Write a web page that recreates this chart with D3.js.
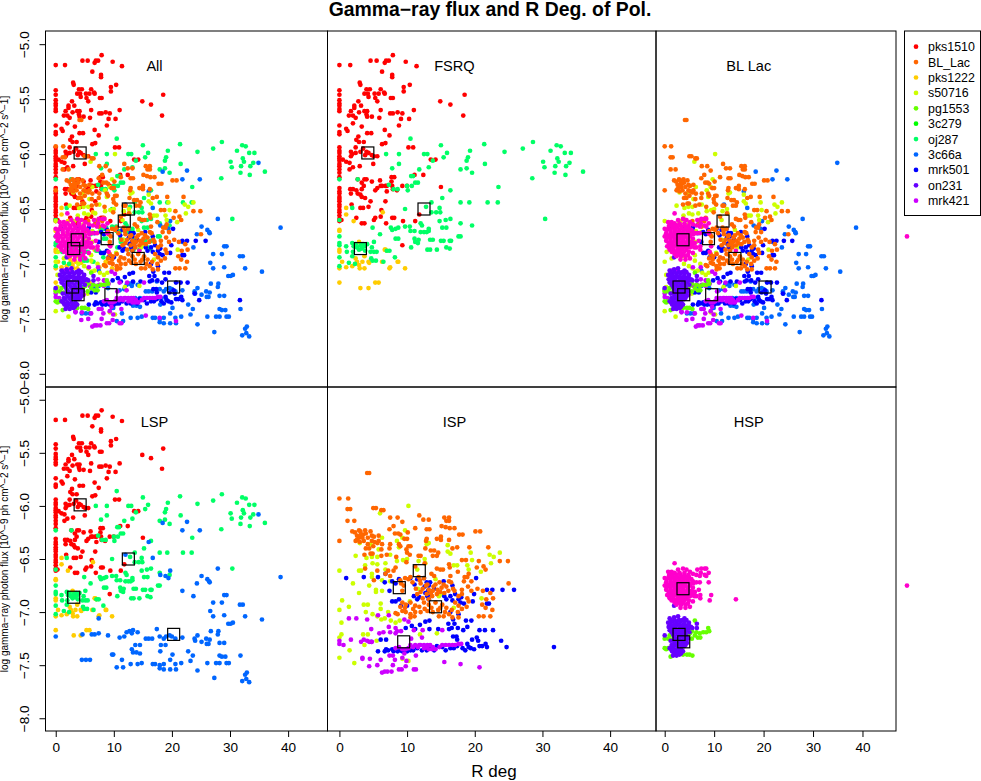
<!DOCTYPE html>
<html>
<head>
<meta charset="utf-8">
<script src="https://cdnjs.cloudflare.com/ajax/libs/d3/7.8.5/d3.min.js"></script>
<style>
body { margin: 0; background: #fff; }
svg text { font-family: "Liberation Sans", Arial, sans-serif; fill: #000; }
</style>
</head>
<body>
<div id="chart"></div>
<script>
// [R deg, log flux], one list per source
const pks1510 = [[0,-5.19],[1.6,-5.19],[4.6,-5.15],[5.5,-5.15],[6.7,-5.17],[6.9,-5.15],[7.3,-5.15],[7.9,-5.10],[9.8,-5.16],[11.4,-5.20],[6.3,-5.25],[7.8,-5.28],[7.8,-5.30],[3.0,-5.35],[3.1,-5.37],[4.0,-5.41],[4.5,-5.41],[3.7,-5.45],[4.2,-5.45],[4.3,-5.48],[5.2,-5.45],[5.8,-5.45],[6.1,-5.41],[6.6,-5.44],[6.7,-5.45],[5.3,-5.49],[5.6,-5.52],[7.6,-5.49],[7.9,-5.49],[9.5,-5.39],[10.4,-5.37],[9.5,-5.43],[18.5,-5.46],[14.9,-5.52],[16.4,-5.55],[18.3,-5.65],
  [0,-5.42],[0,-5.46],[0,-5.51],[0,-5.54],[0,-5.56],[0,-5.59],[0,-5.61],[2.8,-5.52],[2.2,-5.56],[2.2,-5.58],[3.2,-5.56],[1.7,-5.61],[1.4,-5.65],[2.0,-5.65],[2.4,-5.67],[2.9,-5.62],[3.7,-5.61],[4.1,-5.61],[4.0,-5.64],[4.1,-5.66],[4.8,-5.66],[5.9,-5.67],[6.1,-5.60],[7.5,-5.63],[7.9,-5.63],[8.6,-5.62],[9.3,-5.63],[9.1,-5.68],[10.3,-5.68],[11.0,-5.60],[8.8,-5.74],
  [0,-5.74],[0,-5.80],[0,-5.82],[1.0,-5.77],[1.2,-5.79],[2.0,-5.72],[3.3,-5.75],[6.7,-5.78],[7.4,-5.83],[4.1,-5.81],[4.7,-5.81],[2.8,-5.84],[2.5,-5.87],[3.6,-5.89],[2.9,-5.89],[2.4,-5.94],[6.3,-5.91],[6.8,-5.90],[10.2,-5.94],[10.9,-5.94],
  [0,-5.94],[0,-5.97],[0,-5.99],[0,-6.02],[0,-6.04],[0,-6.06],[0,-6.09],[0,-6.11],[0,-6.14],[0,-6.17],[0,-6.21],[1.7,-5.98],[1.9,-6.00],[1.7,-6.02],[2.4,-5.99],[3.1,-5.98],[3.5,-5.95],[4.0,-5.98],[3.8,-6.01],[4.3,-5.99],[4.8,-6.01],[5.1,-6.02],[5.6,-6.02],[0.5,-6.05],[1.0,-6.07],[1.5,-6.08],[2.0,-6.12],[1.5,-6.14],[3.0,-6.11],[5.0,-6.09],[13.5,-6.05],[14.2,-6.05],[12.4,-6.19],[11.1,-6.19],
  [7.7,-6.21],[8.1,-6.21],[2.7,-6.23],[3.7,-6.23],[4.0,-6.23],[3.3,-6.26],[3.6,-6.29],[4.8,-6.25],[6.0,-6.24],[6.3,-6.29],[6.8,-6.29],[7.0,-6.29],[7.7,-6.25],[7.8,-6.29],[9.3,-6.29],[10.0,-6.29],[1.6,-6.32],[2.0,-6.32],[1.7,-6.36],[2.5,-6.33],[2.7,-6.36],[3.3,-6.32],[3.1,-6.37],[3.3,-6.39],[3.8,-6.40],[4.6,-6.43],[5.3,-6.33],[5.6,-6.31],[6.1,-6.29],[7.0,-6.34],[8.5,-6.33],[7.9,-6.32],
  [0,-6.31],[0,-6.34],[0,-6.36],[0,-6.39],[0,-6.41],[0,-6.43],[0,-6.46],[0,-6.48],[0,-6.51],[0,-6.53],[0,-6.56],[0,-6.59],[0,-6.61],[0.3,-6.60],[15.0,-6.30],[6.8,-6.43],[1.8,-6.46],[3.1,-6.49],[3.5,-6.49],[4.3,-6.48],[6.2,-6.51],[2.5,-6.58],[3.3,-6.63],[3.7,-6.63],[5.3,-6.58],[5.1,-6.60],[6.1,-6.57],[6.9,-6.63],[7.8,-6.58],[8.1,-6.58],[9.4,-6.61],[11.2,-6.61],[11.8,-6.55],[9.3,-6.83]];

const pks1222 = [[1.0,-6.49],[1.0,-6.55],[2.1,-6.61],[6.4,-6.53],[0,-6.69],[0,-6.70],[0,-6.87],[0,-6.89],[0,-7.04],[0,-7.17],[2.9,-6.80],[6.7,-6.87],[7.0,-6.88],[3.7,-6.93],[0.4,-6.98],[1.0,-7.03],[1.9,-7.02],[2.6,-6.98],[2.9,-7.01],[3.0,-7.04],[3.7,-7.04],[3.4,-6.98],[4.3,-6.98],[4.4,-6.99],[6.3,-6.98],[7.5,-7.03],[8.6,-6.98],[9.7,-7.04],[5.3,-7.17],[5.8,-7.17],[3.1,-7.22],[4.3,-7.22],[2.4,-6.95],[8.7,-6.98],[7.4,-7.04],[6.8,-6.87]];

const oj287 = [[10.5,-5.86],[15.0,-5.92],[21.4,-5.91],[28.6,-5.89],[27.1,-5.95],[24.4,-5.98],[19.3,-5.97],[15.9,-5.99],[15.4,-6.03],[19.0,-6.03],[18.8,-6.06],[18.8,-6.13],[17.9,-6.14],[19.6,-6.17],[21.5,-6.09],[23.5,-6.30],[21.9,-6.44],[23.4,-6.44],[19.2,-6.44],[17.9,-6.44],
  [31.2,-5.97],[32.1,-5.92],[32.7,-5.93],[33.3,-5.99],[34.2,-5.99],[32.2,-6.04],[32.4,-6.07],[30.1,-6.07],[30.3,-6.12],[31.9,-6.11],[34.0,-6.08],[33.5,-6.11],[31.8,-6.17],[33.4,-6.19],[36.0,-6.16],[28.5,-6.22],[30.4,-6.59],
  [6.9,-6.00],[8.8,-6.00],[12.5,-6.00],[13.0,-6.00],[8.8,-6.09],[7.8,-6.13],[11.8,-6.14],[13.2,-6.12],[13.8,-6.06],[10.6,-6.20],[10.9,-6.20],[10.7,-6.29],[11.2,-6.26],[11.6,-6.26],[10.0,-6.29],[10.1,-6.33],[8.6,-6.32],[8.0,-6.32],[7.3,-6.28],[16.4,-6.33],[15.2,-6.40],[0,-6.23],[2.7,-6.23],[13.6,-6.44],[12.8,-6.48],[14.8,-6.49],[9.7,-6.50],[13.6,-6.53],[14.3,-6.53],[14.9,-6.53],[1.9,-6.49],
  [14.8,-6.61],[15.7,-6.60],[16.4,-6.59],[17.9,-6.63],[19.6,-6.65],[15.2,-6.67],[15.8,-6.67],[12.0,-6.63],[12.2,-6.65],[13.2,-6.68],[13.2,-6.70],[9.7,-6.66],[10.4,-6.66],[11.1,-6.70],[10.5,-6.70],[8.7,-6.67],[8.3,-6.68],[7.6,-6.67],[7.8,-6.69],[4.9,-6.67],[6.0,-6.73],[12.0,-6.71],[12.5,-6.71],[12.9,-6.71],[17.9,-6.75],[17.6,-6.75],[8.3,-6.77],[8.7,-6.77],[11.1,-6.77],[11.7,-6.78],[11.2,-6.80],[11.6,-6.81],[13.4,-6.78],[13.8,-6.78],[15.0,-6.79],[15.4,-6.79],[16.3,-6.79],[16.5,-6.79],[10.6,-6.85],[13.0,-6.87],[13.4,-6.87],[14.4,-6.87],[15.8,-6.85],[16.3,-6.86],
  [0,-6.60],[0,-6.75],[0,-6.81],[0,-6.83],[0,-6.94],[0,-7.02],[1.0,-6.84],[1.1,-6.89],[1.9,-6.81],[2.1,-6.84],[2.0,-6.89],[2.4,-6.82],[2.6,-6.85],[3.1,-6.83],[3.3,-6.86],[3.7,-6.84],[3.5,-6.82],[2.9,-6.87],[4.1,-6.82],[3.8,-6.88],[5.1,-6.80],[4.8,-6.85],[4.6,-6.89],[5.1,-6.89],[5.5,-6.89],[7.0,-6.88],[7.4,-6.88],[8.2,-6.94],[1.9,-6.93],[1.4,-6.99],[2.3,-7.00],[4.7,-6.95],[4.9,-6.97],[5.4,-6.97],[6.5,-6.98]];

const c3c66a = [[34.9,-6.08],[18.4,-6.16],[22.6,-6.15],[21.8,-6.23],[24.8,-6.23],[16.0,-6.34],[16.7,-6.49],[12.0,-6.46],[19.7,-6.61],[18.0,-6.65],[18.9,-6.66],[19.4,-6.68],[27.9,-6.59],[25.1,-6.66],[24.3,-6.73],[26.1,-6.69],[26.4,-6.71],[26.5,-6.72],[38.7,-6.67],[21.8,-6.80],[23.7,-6.85],[29.0,-6.84],[29.4,-6.84],[27.1,-6.91],[28.6,-6.91],[31.7,-6.93],[32.2,-6.93],[26.6,-6.99],[27.1,-7.04],[29.0,-7.03],[32.6,-7.04],[35.5,-7.07],[29.7,-7.11],[30.1,-7.11],[30.5,-7.10],[7.4,-7.06],[26.7,-7.18],[28.0,-7.18],[27.9,-7.21],
  [0,-7.23],[4.6,-7.21],[6.2,-7.21],[6.7,-7.21],[7.4,-7.20],[9.0,-7.22],[11.0,-7.24],[11.8,-7.23],[12.2,-7.19],[12.7,-7.18],[13.3,-7.17],[13.1,-7.20],[14.1,-7.19],[15.5,-7.25],[16.0,-7.25],[16.6,-7.25],[17.4,-7.16],[17.9,-7.23],[18.6,-7.25],[19.0,-7.23],[19.6,-7.22],[20.0,-7.23],[20.6,-7.25],[21.8,-7.24],[23.9,-7.25],[24.4,-7.22],[24.0,-7.27],[25.1,-7.28],[25.9,-7.25],[26.5,-7.26],[26.0,-7.30],[26.3,-7.30],[28.2,-7.29],[29.0,-7.29],
  [13.7,-7.31],[14.5,-7.31],[13.1,-7.35],[13.3,-7.38],[13.9,-7.38],[14.5,-7.39],[18.1,-7.31],[18.9,-7.31],[18.0,-7.37],[20.1,-7.40],[22.8,-7.37],[23.6,-7.41],[9.7,-7.40],[9.9,-7.40],[28.2,-7.41],[28.6,-7.42],[29.2,-7.42],[31.8,-7.41],[4.5,-7.45],[5.2,-7.45],[5.9,-7.45],[11.4,-7.45],[19.7,-7.45],
  [12.9,-7.49],[14.1,-7.49],[14.8,-7.48],[16.7,-7.49],[17.1,-7.49],[17.9,-7.50],[18.6,-7.49],[20.6,-7.49],[21.6,-7.48],[23.2,-7.46],[26.1,-7.48],[27.6,-7.48],[28.2,-7.48],[29.4,-7.48],[29.8,-7.48],[10.5,-7.52],[11.6,-7.52],[17.9,-7.53],[18.6,-7.54],[19.7,-7.54],[20.7,-7.54],[24.4,-7.55],[27.3,-7.62],[32.6,-7.59],[32.9,-7.57],[32.8,-7.63],[32.1,-7.65],[33.3,-7.66]];

const s50716 = [[10.2,-6.00],[6.0,-6.07],[9.7,-6.23],[3.0,-6.35],[4.6,-6.36],[2.4,-6.47],[4.0,-6.49],[4.8,-6.48],[5.6,-6.48],[6.3,-6.30],[8.5,-6.33],[9.3,-6.30],[8.8,-6.39],[5.8,-6.41],[12.9,-6.36],[13.2,-6.35],[16.0,-6.37],[16.0,-6.43],[16.4,-6.45],[19.4,-6.44],[22.2,-6.46],[22.8,-6.48],[23.7,-6.44],[22.4,-6.54],[19.6,-6.51],[20.9,-6.62],[19.1,-6.60],[18.9,-6.56],[16.9,-6.56],[17.4,-6.56],[12.6,-6.50],[12.7,-6.54],[11.7,-6.52],[10.0,-6.50],[9.4,-6.51],[8.5,-6.52],[7.5,-6.46],
  [4.9,-6.54],[3.8,-6.56],[5.6,-6.55],[6.8,-6.54],[6.8,-6.60],[2.9,-6.61],[3.2,-6.61],[0,-6.61],[4.8,-6.64],[4.8,-6.67],[6.3,-6.70],[2.0,-6.73],[4.4,-6.75],[5.4,-6.79],[6.3,-6.80],[5.4,-6.81],[2.9,-6.82],[7.5,-6.71],[11.5,-6.60],[11.6,-6.78],[14.7,-6.85],[15.2,-6.83],[14.2,-6.69],[10.4,-6.90],[0.4,-6.89],[0,-6.98],[1.4,-6.95],[3.6,-6.93],[4.2,-6.93],[6.1,-6.92],[6.1,-6.97],[3.9,-7.00],[4.9,-7.02],[5.6,-7.04],[6.2,-7.07],[6.7,-7.06],[7.2,-7.00],[7.6,-7.08],[0.3,-7.10],[8.3,-7.10],[8.9,-7.08],[14.4,-7.20],[3.5,-7.21],[4.2,-7.21],[5.5,-7.27],[3.7,-7.31],[0.3,-7.21],[0,-7.24],[1.5,-7.36],[0,-7.43],[2.2,-7.48],[12.8,-7.33],[9.3,-7.44],[10.2,-7.46],[11.9,-7.21],[16.9,-6.96],[21.0,-6.87]];

const mrk501 = [[1.0,-6.68],[3.6,-6.67],[5.7,-6.67],[6.7,-6.72],[6.8,-6.64],[7.4,-6.80],[7.8,-6.71],[8.3,-6.73],[8.8,-6.69],[10.5,-6.68],[11.5,-6.69],[11.1,-6.74],[12.9,-6.72],[13.2,-6.75],[13.1,-6.80],[13.0,-6.85],[13.2,-6.88],[15.4,-6.71],[16.7,-6.75],[17.1,-6.83],[20.2,-6.68],[21.8,-6.79],[22.6,-6.79],[24.1,-6.79],[25.8,-6.79],[19.9,-6.83],[18.0,-6.86],[17.9,-6.91],[18.4,-6.92],[19.7,-6.90],[21.8,-6.92],[22.1,-6.92],[16.4,-6.85],[16.7,-6.89],[15.5,-6.85],[11.0,-6.85],[11.5,-6.88],[7.8,-6.90],[8.3,-6.90],[9.1,-6.94],[10.0,-6.94],[17.6,-7.02],[16.4,-7.00],
  [10.7,-7.13],[11.9,-7.12],[12.7,-7.09],[13.3,-7.08],[16.1,-7.11],[17.0,-7.11],[18.7,-7.08],[19.5,-7.08],[16.8,-7.07],[9.8,-7.15],[11.2,-7.16],[13.3,-7.16],[14.6,-7.16],[16.2,-7.16],[16.6,-7.15],[17.5,-7.15],[18.3,-7.17],[18.9,-7.14],[20.7,-7.17],[21.5,-7.17],[22.7,-7.17],[16.8,-7.23],[17.3,-7.23],[17.4,-7.26],[19.6,-7.26],[20.3,-7.24],[20.5,-7.27],[23.9,-7.27],[6.1,-7.26],[6.9,-7.26],[4.7,-7.28],
  [24.7,-7.33],[31.7,-7.33],[18.9,-7.30],[19.1,-7.33],[18.6,-7.36],[19.9,-7.35],[19.4,-7.34],[20.7,-7.32],[21.1,-7.32],[21.6,-7.30],[21.8,-7.33],[16.4,-7.34],[15.7,-7.36],[15.2,-7.33],[14.4,-7.32],[17.4,-7.32],[5.7,-7.37],[6.7,-7.37],[6.9,-7.35],[7.8,-7.35],[8.0,-7.37],[8.6,-7.37],[9.3,-7.37],[10.0,-7.37],[10.5,-7.36],[12.2,-7.36],[13.4,-7.34],
  [12.6,-6.76],[13.4,-6.72],[13.5,-6.83],[12.7,-6.82],[12.5,-6.68],[14.0,-6.78],[11.8,-6.86],[17.6,-6.88],[15.8,-6.88],[8.8,-6.88],[7.2,-7.36],[9.0,-7.36],[10.9,-7.36],[11.5,-7.34],[12.9,-7.36],[14.0,-7.36],[16.9,-7.34],[18.2,-7.34]];

const blLac = [[4.1,-5.69],[4.4,-5.69],[0,-5.93],[1.3,-5.93],[1.2,-6.03],[1.6,-6.03],[5.0,-6.02],[5.4,-6.02],[6.2,-6.04],[6.5,-6.04],[1.2,-6.14],[2.2,-6.14],[7.5,-6.11],[8.6,-6.11],[9.3,-6.15],[11.8,-6.09],[12.4,-6.13],[13.2,-6.13],[15.5,-6.11],[16.2,-6.11],[15.8,-6.14],[16.2,-6.14],[7.4,-6.22],[8.0,-6.19],[11.2,-6.21],[12.9,-6.22],[13.3,-6.22],[15.1,-6.19],[15.7,-6.20],[16.3,-6.21],[17.0,-6.21],
  [1.9,-6.24],[2.9,-6.23],[3.1,-6.24],[3.8,-6.23],[3.5,-6.27],[4.6,-6.24],[20.1,-6.24],[20.8,-6.24],[17.7,-6.27],[18.2,-6.27],[0,-6.33],[2.4,-6.33],[2.9,-6.30],[3.4,-6.30],[3.6,-6.33],[4.8,-6.28],[5.1,-6.29],[5.8,-6.28],[4.8,-6.33],[5.8,-6.33],[8.2,-6.26],[8.7,-6.26],[9.0,-6.27],[10.1,-6.25],[9.6,-6.31],[10.0,-6.31],[12.9,-6.31],[12.8,-6.33],[15.0,-6.29],[15.0,-6.32],[14.4,-6.31],[16.2,-6.32],
  [5.6,-6.35],[6.3,-6.36],[7.5,-6.36],[8.8,-6.36],[9.0,-6.38],[3.9,-6.40],[4.4,-6.40],[6.2,-6.41],[7.4,-6.40],[10.2,-6.38],[10.5,-6.38],[9.9,-6.41],[12.7,-6.40],[13.5,-6.42],[14.0,-6.42],[13.8,-6.47],[14.6,-6.44],[16.7,-6.40],[17.4,-6.39],[19.2,-6.39],[22.0,-6.39],[3.7,-6.46],[4.6,-6.45],[4.9,-6.45],[6.2,-6.47],[7.0,-6.46],[8.4,-6.48],[10.0,-6.44],[10.4,-6.46],[11.7,-6.47],[12.0,-6.47],[9.9,-6.53],[18.1,-6.51],[18.7,-6.51],[20.6,-6.52],[23.7,-6.52],[24.9,-6.52],[14.4,-6.47],
  [3.8,-6.59],[5.6,-6.61],[7.2,-6.61],[8.3,-6.58],[8.0,-6.61],[11.2,-6.57],[12.6,-6.54],[14.4,-6.59],[14.9,-6.60],[15.3,-6.60],[16.2,-6.55],[16.3,-6.58],[17.5,-6.62],[20.3,-6.58],[21.3,-6.57],[21.6,-6.60],[5.1,-6.70],[6.8,-6.64],[7.5,-6.66],[9.7,-6.68],[10.2,-6.69],[10.5,-6.67],[11.7,-6.67],[12.5,-6.68],[13.6,-6.64],[14.0,-6.66],[13.0,-6.74],[16.4,-6.66],[16.2,-6.71],[16.5,-6.72],[18.5,-6.67],[18.9,-6.67],[19.1,-6.64],[18.4,-6.71],[19.5,-6.71],
  [9.1,-6.73],[9.5,-6.75],[12.0,-6.73],[12.8,-6.75],[13.9,-6.76],[14.5,-6.79],[15.1,-6.77],[15.8,-6.76],[13.8,-6.80],[18.1,-6.79],[20.4,-6.78],[21.2,-6.80],[22.3,-6.82],[25.0,-6.73],[9.3,-6.80],[11.5,-6.83],[12.0,-6.81],[12.9,-6.83],[13.7,-6.85],[14.4,-6.83],[18.1,-6.83],[18.9,-6.87],[19.1,-6.90],[19.5,-6.80],[21.7,-6.88],[22.7,-6.87],[21.1,-6.93],
  [9.3,-6.91],[9.8,-6.93],[10.5,-6.91],[11.2,-6.94],[12.5,-6.91],[13.2,-6.93],[14.2,-6.91],[15.2,-6.93],[15.8,-6.96],[17.1,-6.91],[17.6,-6.94],[18.1,-6.97],[21.6,-6.96],[22.6,-6.98],[8.3,-7.01],[8.6,-7.02],[9.3,-6.99],[9.8,-7.00],[10.5,-7.02],[11.2,-7.00],[12.0,-7.00],[13.0,-6.99],[13.8,-7.00],[14.7,-7.04],[15.4,-7.04],[16.2,-7.02],[16.7,-7.05],[17.6,-7.05],[20.6,-7.04],[21.3,-7.04],[22.3,-7.04],[10.5,-7.05],[11.1,-7.04],[14.9,-6.96],
  [2.3,-6.25],[2.6,-6.28],[3.2,-6.27],[3.9,-6.26],[4.2,-6.30],[2.6,-6.32],[3.0,-6.34],[4.2,-6.36],[5.2,-6.34],[5.0,-6.38],[9.0,-6.70],[10.8,-6.72],[11.3,-6.78],[11.9,-6.70],[12.3,-6.78],[13.2,-6.79],[14.2,-6.74],[14.8,-6.72],[15.4,-6.74],[13.5,-6.82],[14.9,-6.81],[15.5,-6.82],[16.1,-6.80],[16.8,-6.78],[12.3,-6.87],[13.2,-6.88],[11.8,-6.95],[12.6,-6.97],[13.6,-6.96],[14.6,-6.98],[15.6,-7.00],[16.6,-6.98],[10.9,-6.97],[9.7,-6.96],[9.0,-6.95],[17.5,-7.00],[18.8,-6.95],[17.6,-6.85],[17.0,-6.80],[19.0,-6.76]];

const mrk421 = [[1.4,-7.06],[2.5,-7.06],[4.1,-7.07],[5.7,-7.03],[7.3,-7.03],[9.6,-7.07],[10.2,-7.09],[7.3,-7.14],[4.7,-7.16],[5.9,-7.20],[6.5,-7.19],[8.3,-7.15],[8.5,-7.18],[9.1,-7.18],[7.5,-7.19],[8.3,-7.20],[11.0,-7.17],[12.3,-7.17],[15.2,-7.17],[10.6,-7.25],[12.2,-7.24],[0,-7.27],[1.7,-7.26],[3.6,-7.26],[3.2,-7.28],[4.1,-7.27],[4.4,-7.28],[4.8,-7.28],[0,-7.30],[0.6,-7.31],
  [8.3,-7.34],[8.8,-7.33],[9.3,-7.35],[9.8,-7.35],[10.5,-7.31],[11.2,-7.31],[12.0,-7.31],[12.5,-7.31],[13.0,-7.31],[13.4,-7.31],[10.2,-7.34],[12.5,-7.34],[13.2,-7.35],[13.7,-7.35],[14.2,-7.35],[15.7,-7.31],[16.7,-7.31],[17.1,-7.31],[17.6,-7.30],[18.0,-7.30],[9.6,-7.39],[11.3,-7.41],[7.4,-7.41],[7.9,-7.41],[3.4,-7.43],[4.5,-7.44],[6.1,-7.45],[8.2,-7.45],[9.9,-7.46],[9.3,-7.43],[5.6,-7.50],[4.4,-7.51],[7.9,-7.50],[9.8,-7.51],[15.5,-7.47],[17.9,-7.49],[20.7,-7.52],[6.3,-7.57],[6.7,-7.56],[7.1,-7.56],[7.7,-7.56],[8.8,-7.54],[9.2,-7.54],[11.0,-7.54],[11.3,-7.54],[3.4,-7.44],
  [11.6,-7.33],[10.9,-7.33],[12.9,-7.33],[14.8,-7.33],[15.2,-7.31],[16.2,-7.31],[11.8,-7.31],[13.8,-7.33]];

const pg1553 = [[6.1,-7.08],[8.8,-7.15],[9.0,-7.18],[8.4,-7.19],[7.8,-7.19],[7.1,-7.20],[6.4,-7.19],[5.5,-7.18],[5.1,-7.20],[6.1,-7.22],[6.7,-7.24],[5.5,-7.25],[7.2,-7.24],[0,-7.25],[0.7,-7.25],[1.3,-7.26],[1.0,-7.22],[0,-7.34],[0.3,-7.35],[1.2,-7.42],[3.7,-7.40],[4.5,-7.40],[5.0,-7.40],[5.6,-7.41],[4.0,-7.19],[4.7,-7.22],[0.7,-7.34]];

const on231 = [[1.0,-7.06],[1.9,-7.05],[2.7,-7.04],[4.0,-7.06],[0.7,-7.10],[1.5,-7.09],[2.4,-7.09],[3.2,-7.09],[4.0,-7.09],[4.9,-7.10],[6.5,-7.11],[0.8,-7.14],[1.7,-7.13],[2.6,-7.12],[3.5,-7.13],[4.4,-7.13],[5.3,-7.14],[6.5,-7.15],[1.0,-7.17],[1.9,-7.17],[2.7,-7.17],[3.7,-7.17],[4.4,-7.17],[0,-7.22],[1.7,-7.21],[2.6,-7.21],[3.4,-7.21],[4.2,-7.21],[2.2,-7.25],[3.0,-7.25],[3.9,-7.24],[4.7,-7.25],[1.2,-7.27],[2.0,-7.29],[2.8,-7.29],[3.7,-7.29],[4.5,-7.29],[1.0,-7.34],[1.7,-7.32],[2.5,-7.32],[3.4,-7.32],[4.0,-7.32],[1.5,-7.37],[2.2,-7.37],[3.0,-7.37],[3.7,-7.37],[1.7,-7.41],[2.4,-7.41],[3.0,-7.40],[1.9,-6.94],
  [1.2,-7.075],[2.0,-7.075],[2.9,-7.075],[3.6,-7.075],[4.4,-7.075],[1.1,-7.115],[2.0,-7.115],[3.0,-7.115],[3.9,-7.115],[4.8,-7.115],[1.3,-7.15],[2.2,-7.15],[3.1,-7.15],[4.0,-7.15],[4.9,-7.15],[5.6,-7.15],[1.4,-7.19],[2.3,-7.19],[3.2,-7.19],[4.1,-7.19],[5.0,-7.19],[1.9,-7.23],[2.9,-7.23],[3.7,-7.23],[4.4,-7.23],[1.7,-7.27],[2.6,-7.27],[3.4,-7.27],[4.2,-7.27],[1.4,-7.31],[2.4,-7.31],[3.2,-7.31],[4.2,-7.31],[1.3,-7.35],[2.0,-7.35],[2.7,-7.35],[3.4,-7.35],[1.9,-7.39],[2.7,-7.39],[3.3,-7.39]];

// pink source has no legend entry in the original
const unnamedSource = [[2.0,-6.54],[6.6,-6.60],[7.4,-6.59],[8.1,-6.59],[8.4,-6.59],[3.7,-6.59],[4.4,-6.60],[2.7,-6.60],[0.7,-6.62],[1.4,-6.62],[2.0,-6.63],[3.0,-6.63],[4.0,-6.63],[5.1,-6.62],[5.7,-6.64],[6.4,-6.65],[7.3,-6.63],[8.1,-6.65],[8.9,-6.63],[8.4,-6.66],[0,-6.68],[0.8,-6.67],[1.7,-6.67],[2.5,-6.67],[3.4,-6.67],[4.3,-6.67],[4.9,-6.67],[7.1,-6.66],[0.3,-6.72],[1.2,-6.71],[2.0,-6.71],[2.8,-6.71],[3.7,-6.71],[4.6,-6.71],[5.7,-6.71],[6.4,-6.72],[7.1,-6.72],[8.9,-6.72],[0,-6.75],[0.8,-6.75],[1.7,-6.75],[2.6,-6.75],[3.4,-6.75],[4.2,-6.75],[5.1,-6.75],[5.7,-6.77],[6.9,-6.79],[0.3,-6.79],[1.2,-6.79],[2.0,-6.79],[2.8,-6.79],[3.7,-6.79],[4.6,-6.79],[5.4,-6.80],[6.1,-6.81],[0.5,-6.84],[1.3,-6.83],[2.2,-6.83],[3.0,-6.83],[3.9,-6.83],[4.7,-6.83],[5.5,-6.84],[6.4,-6.85],[7.2,-6.84],[9.4,-6.84],[7.2,-6.87],[1.0,-6.87],[1.8,-6.87],[2.7,-6.87],[3.5,-6.87],[4.4,-6.87],[5.7,-6.90],[9.1,-6.89],[14.4,-6.88],[2.0,-6.91],[2.8,-6.91],[3.7,-6.91],[4.7,-6.92],[3.2,-6.96],[4.2,-6.96],[5.1,-6.95],[49.0,-6.75],
  [0.9,-6.65],[1.6,-6.65],[2.4,-6.65],[3.2,-6.65],[4.0,-6.65],[4.8,-6.65],[0.4,-6.69],[1.2,-6.69],[2.1,-6.69],[3.0,-6.69],[3.9,-6.69],[4.7,-6.69],[5.4,-6.69],[0.4,-6.73],[1.3,-6.73],[2.2,-6.73],[3.2,-6.73],[4.1,-6.73],[5.0,-6.73],[5.8,-6.73],[0.4,-6.77],[1.2,-6.77],[2.1,-6.77],[3.0,-6.77],[3.8,-6.77],[4.7,-6.77],[0.8,-6.81],[1.6,-6.81],[2.5,-6.81],[3.3,-6.81],[4.2,-6.81],[5.0,-6.81],[5.7,-6.81],[0.9,-6.85],[1.7,-6.85],[2.6,-6.85],[3.5,-6.85],[4.3,-6.85],[5.1,-6.85],[6.0,-6.85],[1.4,-6.89],[2.3,-6.89],[3.1,-6.89],[4.0,-6.89],[4.9,-6.89],[2.4,-6.93],[3.3,-6.93],[4.2,-6.93]];

// source means, drawn as open squares
const means = {pks1510: [4.2,-5.99], pks1222: [3.1,-6.86], oj287: [12.5,-6.50], c3c66a: [20.3,-7.21], s50716: [11.8,-6.61], mrk501: [8.85,-6.77], blLac: [14.2,-6.95], mrk421: [9.5,-7.28], pg1553: [3.85,-7.28], on231: [2.9,-7.21], unnamedSource: [3.7,-6.78]};

const legendNames = ["pks1510","BL_Lac","pks1222","s50716","pg1553","3c279","oj287","3c66a","mrk501","on231","mrk421"];
const legendColors = ["#FF0000","#FF6600","#FFCC00","#CCFF00","#66FF00","#00FF00","#00FF66","#0066FF","#0000FF","#6600FF","#CC00FF"];

const sources = {pks1510, pks1222, oj287, c3c66a, s50716, mrk501, blLac, mrk421, pg1553, on231, unnamedSource};
const sourceColors = {pks1510:"#FF0000", blLac:"#FF6600", pks1222:"#FFCC00", s50716:"#CCFF00", pg1553:"#66FF00", oj287:"#00FF66", c3c66a:"#0066FF", mrk501:"#0000FF", on231:"#6600FF", mrk421:"#CC00FF", unnamedSource:"#FF00CC"};

const fsrq = ["pks1510","pks1222","oj287"];
const lsp = ["pks1510","pks1222","oj287","c3c66a"];
const isp = ["s50716","mrk501","blLac","mrk421"];
const hsp = ["pg1553","on231","unnamedSource"];
const blLacs = ["c3c66a","s50716","mrk501","blLac","mrk421","pg1553","on231","unnamedSource"];
const all = ["pks1510","pks1222","oj287","c3c66a","s50716","mrk501","blLac","mrk421","pg1553","on231","unnamedSource"];

const xTicks = [0,10,20,30,40];
const yTicks = [-5,-5.5,-6,-6.5,-7,-7.5,-8];
const xLim = [-1.76,46.78];
const yLim = [-8.12,-4.88];

const width = 981, height = 781;
const colEdges = [45.5, 327.5, 656, 896];
const rowEdges = [31, 387, 731];

const panels = [
    {name: "All", list: all, col: 0, row: 0},
    {name: "FSRQ", list: fsrq, col: 1, row: 0},
    {name: "BL Lac", list: blLacs, col: 2, row: 0},
    {name: "LSP", list: lsp, col: 0, row: 1},
    {name: "ISP", list: isp, col: 1, row: 1},
    {name: "HSP", list: hsp, col: 2, row: 1}
];

const svg = d3.select("#chart").append("svg")
    .attr("width", width)
    .attr("height", height)
    .style("display", "block");

// Title
svg.append("text")
    .attr("x", 490)
    .attr("y", 15.5)
    .attr("text-anchor", "middle")
    .style("font-size", "19.4px")
    .style("font-weight", "bold")
    .text("Gamma\u2212ray flux and R Deg. of Pol.");

panels.forEach((p, i) => {
    const left = colEdges[p.col], right = colEdges[p.col + 1];
    const top = rowEdges[p.row], bottom = rowEdges[p.row + 1];

    const x = d3.scaleLinear().domain(xLim).range([left, right]);
    const y = d3.scaleLinear().domain(yLim).range([bottom, top]);

    // last column can spill past the box up to the page edge
    const clipRight = p.col === 2 ? width : right;
    svg.append("clipPath")
        .attr("id", "clip" + i)
        .append("rect")
        .attr("x", left)
        .attr("y", top)
        .attr("width", clipRight - left)
        .attr("height", bottom - top);

    const g = svg.append("g").attr("clip-path", `url(#clip${i})`);

    p.list.forEach(name => {
        g.append("g")
            .selectAll("circle")
            .data(sources[name])
            .join("circle")
            .attr("cx", d => x(d[0]))
            .attr("cy", d => y(d[1]))
            .attr("r", 2.35)
            .attr("fill", sourceColors[name]);
    });

    // Mean markers
    g.append("g")
        .selectAll("rect")
        .data(p.list.map(name => means[name]))
        .join("rect")
        .attr("x", d => x(d[0]) - 6)
        .attr("y", d => y(d[1]) - 6)
        .attr("width", 12)
        .attr("height", 12)
        .attr("fill", "none")
        .attr("stroke", "#000")
        .attr("stroke-width", 1.2);

    // Panel box
    svg.append("rect")
        .attr("x", left)
        .attr("y", top)
        .attr("width", right - left)
        .attr("height", bottom - top)
        .attr("fill", "none")
        .attr("stroke", "#000")
        .attr("stroke-width", 1);

    // panel name sits at R = 17 on every panel
    svg.append("text")
        .attr("x", x(17))
        .attr("y", top + 40)
        .attr("text-anchor", "middle")
        .style("font-size", "14.6px")
        .text(p.name);

    if (p.col === 0) {
        const yAxis = svg.append("g")
            .attr("transform", `translate(${left},0)`)
            .call(d3.axisLeft(y).tickValues(yTicks).tickSize(6).tickPadding(4).tickFormat(d3.format(".1f")));
        yAxis.select(".domain").remove();
        yAxis.selectAll("text")
            .attr("transform", "rotate(-90)")
            .attr("x", 0)
            .attr("y", -17)
            .attr("dy", 0)
            .style("text-anchor", "middle")
            .style("font-size", "13.6px")
            .style("font-family", '"Liberation Sans", Arial, sans-serif');

        svg.append("text")
            .attr("x", -(top + bottom) / 2)
            .attr("y", 8)
            .attr("transform", "rotate(-90)")
            .attr("text-anchor", "middle")
            .style("font-size", "10px")
            .text("log gamma\u2212ray photon flux [10^\u22129 ph cm^\u22122 s^\u22121]");
    }

    if (p.row === 1) {
        const xAxis = svg.append("g")
            .attr("transform", `translate(0,${bottom})`)
            .call(d3.axisBottom(x).tickValues(xTicks).tickSize(6).tickPadding(5).tickFormat(d3.format("d")));
        xAxis.select(".domain").remove();
        xAxis.selectAll("text")
            .style("font-size", "13.6px")
            .style("font-family", '"Liberation Sans", Arial, sans-serif');
    }
});

// X axis title
svg.append("text")
    .attr("x", 494)
    .attr("y", 777)
    .attr("text-anchor", "middle")
    .style("font-size", "17px")
    .text("R deg");

// Legend
const legend = svg.append("g");
legend.append("rect")
    .attr("x", 904.5)
    .attr("y", 31)
    .attr("width", 76)
    .attr("height", 184.5)
    .attr("fill", "#fff")
    .attr("stroke", "#000");

const rowY = d3.scalePoint().domain(legendNames).range([46.7, 200.7]);

legend.selectAll("circle")
    .data(legendNames)
    .join("circle")
    .attr("cx", 916)
    .attr("cy", d => rowY(d))
    .attr("r", 2.35)
    .attr("fill", (d, i) => legendColors[i]);

legend.selectAll("text")
    .data(legendNames)
    .join("text")
    .attr("x", 928)
    .attr("y", d => rowY(d) + 4.5)
    .style("font-size", "12.4px")
    .text(d => d);
</script>
</body>
</html>
